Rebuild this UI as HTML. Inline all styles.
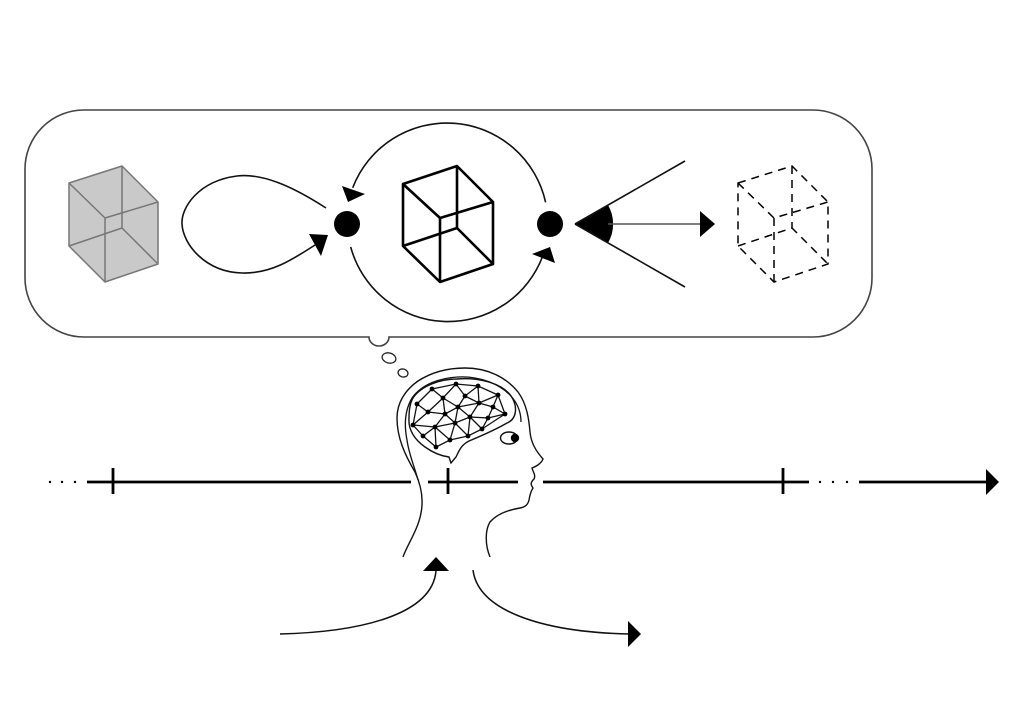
<!DOCTYPE html>
<html><head><meta charset="utf-8"><style>
html,body{margin:0;padding:0;background:#fff;}
svg{display:block;}
</style></head><body>
<svg width="1024" height="724" viewBox="0 0 1024 724" xmlns="http://www.w3.org/2000/svg">
<rect width="1024" height="724" fill="#fff"/>
<!-- Thought bubble -->
<path d="M84,110 L813,110 A59,59 0 0 1 872,169 L872,278 A59,59 0 0 1 813,337 L389,337 A10,9 0 0 1 369,337 L84,337 A59,59 0 0 1 25,278 L25,169 A59,59 0 0 1 84,110 Z" fill="none" stroke="#444" stroke-width="1.6"/>
<ellipse cx="389" cy="358" rx="7" ry="5" transform="rotate(15 389 358)" fill="none" stroke="#222" stroke-width="1.3"/>
<ellipse cx="403" cy="373" rx="5" ry="4" transform="rotate(15 403 373)" fill="none" stroke="#222" stroke-width="1.3"/>

<!-- gray cube -->
<g stroke="#777" stroke-width="1.5" stroke-linejoin="round">
<path d="M69,183 L122,166 L158,202 L158,264 L105,282 L69,246 Z" fill="#c9c9c9"/>
<path d="M69,183 L105,218 L158,202 M105,218 L105,282 M122,166 L122,228 M69,246 L122,228 L158,264" fill="none"/>
</g>

<!-- loop -->
<path d="M326,208 C292,186 262,173 237,176 C198,181 181,208 182,224 C183,244 205,272 242,273 C270,274 292,260 315,245" fill="none" stroke="#111" stroke-width="1.6"/>
<polygon points="309,234 328,235 321,256" fill="#000"/>

<!-- circle arcs -->
<path d="M545.6,202.3 A101,101 0 0 0 352.7,187.8" fill="none" stroke="#111" stroke-width="1.6"/>
<path d="M350.7,247 A101,101 0 0 0 542.8,255.9" fill="none" stroke="#111" stroke-width="1.6"/>
<polygon points="342,186 365,194 348,202" fill="#000"/>
<polygon points="532,254 555,263 550,247" fill="#000"/>
<circle cx="347" cy="224" r="13" fill="#000"/>
<circle cx="550" cy="224" r="13" fill="#000"/>

<!-- black cube -->
<g stroke="#000" stroke-width="2.6" stroke-linejoin="round" fill="none">
<path d="M403,184 L457,166 L493,202 L493,264 L440,282 L403,246 Z"/>
<path d="M403,184 L440,218 L493,202 M440,218 L440,282 M457,166 L457,228 M403,246 L457,228 L493,264"/>
</g>

<!-- eye cone -->
<path d="M575,224 L608,205 A38,38 0 0 1 608,243 Z" fill="#000"/>
<path d="M575,224 L685,161 M575,224 L685,287" stroke="#111" stroke-width="1.6" fill="none"/>
<path d="M608,224 L701,224" stroke="#555" stroke-width="1.6"/>
<polygon points="700,211 715,224 700,237" fill="#000"/>

<!-- dashed cube -->
<g stroke="#000" stroke-width="1.5" fill="none" stroke-dasharray="8,6">
<path d="M738,183 L792,166 L828,202 L828,264 L774,282 L738,246 Z"/>
<path d="M738,183 L774,218 L828,202 M774,218 L774,282 M792,166 L792,228 M738,246 L792,228 L828,264"/>
</g>

<!-- timeline -->
<g fill="#000">
<circle cx="50" cy="482" r="1.2"/><circle cx="62" cy="482" r="1.2"/><circle cx="75" cy="482" r="1.2"/>
<circle cx="820" cy="482" r="1.2"/><circle cx="833" cy="482" r="1.2"/><circle cx="847" cy="482" r="1.2"/>
</g>
<g stroke="#000" stroke-width="2.8" fill="none">
<path d="M87,482 L411,482 M428,482 L518,482 M543,482 L809,482 M859,482 L988,482"/>
<path d="M113,468 L113,494 M448,468 L448,494 M783,468 L783,494"/>
</g>
<polygon points="986,469 999,482 986,495" fill="#000"/>

<!-- head -->
<path d="M403,557 C407,545 418,530 421,513 C424,498 421,485 415,472 C405,455 397,438 397,418 C397,403 405,390 418,381 C432,372 448,368 465,368 C487,368 506,377 518,392 C527,404 529,420 530,432 C531,442 535,450 543,459 C541,464 535,467 532,468 C533,472 536,475 534,479 C531,482 530,484 533,488 C531,491 530,494 529,500 C528,504 526,507 520,508 C508,510 497,514 490,522 C485,530 485,545 490,557" fill="none" stroke="#111" stroke-width="1.4"/>
<path d="M418,480 C415,468 409,455 407,440 C404,425 405,410 412,398 C422,384 440,378 458,377 C480,376 500,384 511,396 C518,404 521,413 521,422" fill="none" stroke="#111" stroke-width="1.3"/>
<!-- brain outline -->
<path d="M413,398 C421,386 440,379 457,379 C480,377 503,384 511,396 C518,406 517,419 507,423 C495,430 481,436 469,441 C461,445 459,451 456,457 L451,463 L449,457 C441,456 432,452 425,447 C415,440 408,430 409,418 C409,410 410,403 413,398 Z" fill="none" stroke="#111" stroke-width="1.4"/>
<!-- network -->
<g stroke="#111" stroke-width="1.3" fill="none">
<path d="M432,389 L456,384 L478,386 L498,395 M432,389 L417,404 M432,389 L443,398 L456,384 L465,396 L478,386 L479,403 L498,395 L493,407 M498,395 L505,414 M417,404 L428,412 L443,398 M443,398 L445,414 M443,398 L458,407 L465,396 L479,403 L458,407 M479,403 L493,407 L505,414 M479,403 L470,417 M493,407 L488,418 L505,414 M428,412 L445,414 L458,407 L470,417 L455,423 L458,407 M428,412 L413,425 L417,404 M445,414 L435,427 M445,414 L455,423 M470,417 L488,418 L482,429 L470,417 M505,414 L482,429 M413,425 L435,427 L455,423 M413,425 L423,436 L435,427 L450,440 L455,423 L468,436 L482,429 M423,436 L436,447 L435,427 M436,447 L450,440 L468,436 L470,417"/>
</g>
<g fill="#000">
<circle cx="432" cy="389" r="2.4"/><circle cx="456" cy="384" r="2.4"/><circle cx="478" cy="386" r="2.4"/><circle cx="498" cy="395" r="2.4"/>
<circle cx="417" cy="404" r="2.4"/><circle cx="443" cy="398" r="2.4"/><circle cx="465" cy="396" r="2.4"/><circle cx="479" cy="403" r="2.4"/><circle cx="493" cy="407" r="2.4"/><circle cx="505" cy="414" r="2.4"/>
<circle cx="428" cy="412" r="2.4"/><circle cx="458" cy="407" r="2.4"/><circle cx="445" cy="414" r="2.4"/><circle cx="470" cy="417" r="2.4"/><circle cx="488" cy="418" r="2.4"/>
<circle cx="413" cy="425" r="2.4"/><circle cx="435" cy="427" r="2.4"/><circle cx="455" cy="423" r="2.4"/><circle cx="482" cy="429" r="2.4"/>
<circle cx="423" cy="436" r="2.4"/><circle cx="450" cy="440" r="2.4"/><circle cx="468" cy="436" r="2.4"/><circle cx="436" cy="447" r="2.4"/>
</g>
<!-- eye -->
<ellipse cx="509" cy="438" rx="8.5" ry="6" fill="#fff" stroke="#111" stroke-width="1.4"/>
<circle cx="515" cy="438" r="4.2" fill="#000"/>

<!-- bottom arrows -->
<path d="M280,634 C360,632 432,615 436,571" fill="none" stroke="#111" stroke-width="1.5"/>
<polygon points="423,571 449,571 436,557" fill="#000"/>
<path d="M473,570 C478,610 540,632 629,634" fill="none" stroke="#111" stroke-width="1.5"/>
<polygon points="628,621 641,634 628,647" fill="#000"/>
</svg>
</body></html>
